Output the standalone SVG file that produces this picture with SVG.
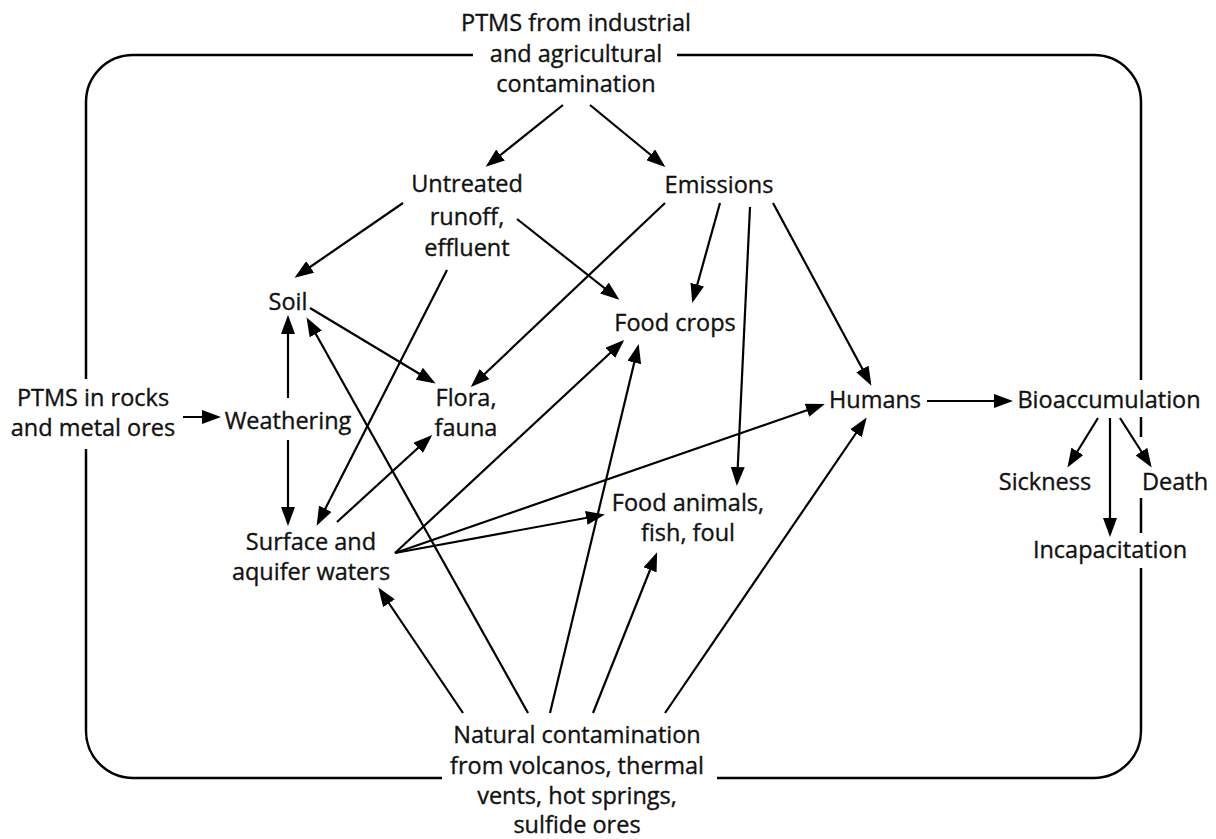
<svg xmlns="http://www.w3.org/2000/svg" width="1216" height="839" viewBox="0 0 1216 839">
<defs>
<marker id="ah" markerUnits="userSpaceOnUse" markerWidth="19" markerHeight="14" refX="16" refY="7" orient="auto"><path d="M0,0 L19,7 L0,14 z" fill="#000"/></marker>
</defs>
<style>
text{font-family:"Open Sans","Noto Sans","DejaVu Sans",sans-serif;font-size:23.5px;fill:#111;stroke:#111;stroke-width:0.35;text-anchor:middle}
.c line{stroke:#000;stroke-width:2.2;marker-end:url(#ah)}
.b{fill:none;stroke:#000;stroke-width:2.5}
</style>
<rect width="1216" height="839" fill="#fff"/>
<g id="border">
<path class="b" d="M473,55 H133 A47,47 0 0 0 86,102 V379"/>
<path class="b" d="M86,449 V731 A47,47 0 0 0 133,778 H442"/>
<path class="b" d="M717,778 H1094 A47,47 0 0 0 1141,731 V568"/>
<path class="b" d="M1141,533 V498"/>
<path class="b" d="M1141,437 V417"/>
<path class="b" d="M1141,380 V102 A47,47 0 0 0 1094,55 H677"/>
</g>
<g id="title"><text x="576" y="31">PTMS from industrial</text><text x="576" y="62">and agricultural</text><text x="576" y="92">contamination</text></g>
<g id="untreated"><text x="467" y="192">Untreated</text><text x="467" y="225">runoff,</text><text x="467" y="256">effluent</text></g>
<g id="emissions"><text x="719" y="193">Emissions</text></g>
<g id="soil"><text x="288" y="310">Soil</text></g>
<g id="foodcrops"><text x="675" y="331">Food crops</text></g>
<g id="rocks"><text x="93" y="406">PTMS in rocks</text><text x="93" y="436">and metal ores</text></g>
<g id="weathering"><text x="288" y="429">Weathering</text></g>
<g id="flora"><text x="466" y="406">Flora,</text><text x="466" y="436">fauna</text></g>
<g id="humans"><text x="875" y="408">Humans</text></g>
<g id="bioaccumulation"><text x="1109" y="408">Bioaccumulation</text></g>
<g id="sickness"><text x="1045" y="490">Sickness</text></g>
<g id="death"><text x="1175" y="490">Death</text></g>
<g id="incapacitation"><text x="1110" y="558">Incapacitation</text></g>
<g id="foodanimals"><text x="688" y="511">Food animals,</text><text x="688" y="541">fish, foul</text></g>
<g id="surface"><text x="311" y="550">Surface and</text><text x="311" y="580">aquifer waters</text></g>
<g id="natural"><text x="577" y="743">Natural contamination</text><text x="577" y="774">from volcanos, thermal</text><text x="577" y="804">vents, hot springs,</text><text x="577" y="833">sulfide ores</text></g>
<g id="connectors" class="c">
<line x1="563" y1="105" x2="488" y2="165"/>
<line x1="590" y1="105" x2="663" y2="165"/>
<line x1="403" y1="203" x2="297" y2="276"/>
<line x1="517" y1="219" x2="617" y2="298"/>
<line x1="447" y1="270" x2="318" y2="523"/>
<line x1="665" y1="203" x2="473" y2="385"/>
<line x1="720" y1="203" x2="693" y2="300"/>
<line x1="750" y1="207" x2="737" y2="483"/>
<line x1="773" y1="203" x2="870" y2="383"/>
<line x1="310" y1="308" x2="433" y2="382"/>
<line x1="288" y1="398" x2="288" y2="318"/>
<line x1="288" y1="440" x2="288" y2="523"/>
<line x1="183" y1="417" x2="218" y2="417"/>
<line x1="337" y1="522" x2="430" y2="437"/>
<line x1="395" y1="553" x2="622" y2="342"/>
<line x1="395" y1="553" x2="822" y2="405"/>
<line x1="395" y1="553" x2="602" y2="515"/>
<line x1="463" y1="713" x2="380" y2="590"/>
<line x1="528" y1="713" x2="308" y2="320"/>
<line x1="550" y1="713" x2="638" y2="347"/>
<line x1="593" y1="713" x2="656" y2="555"/>
<line x1="665" y1="713" x2="865" y2="420"/>
<line x1="927" y1="401" x2="1010" y2="401"/>
<line x1="1098" y1="418" x2="1069" y2="465"/>
<line x1="1110" y1="418" x2="1110" y2="534"/>
<line x1="1120" y1="418" x2="1150" y2="465"/>
</g>
</svg>
